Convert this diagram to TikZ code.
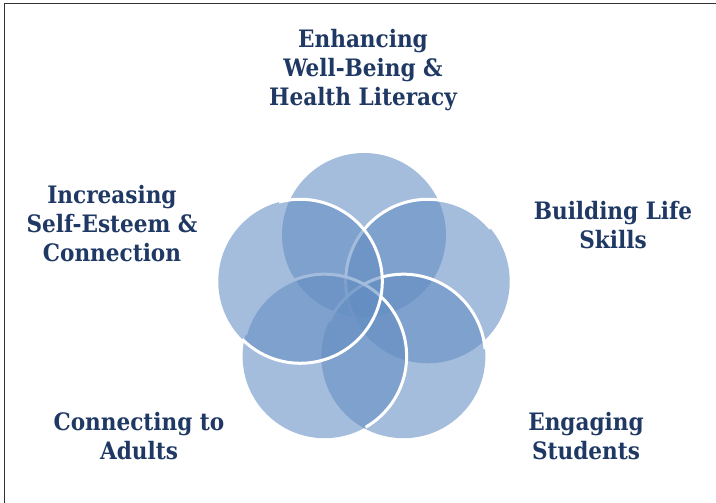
\documentclass[tikz,border=0pt]{standalone}
\usepackage{fontspec}
\newfontfamily\labelfont{DejaVu Serif Condensed}
\usepackage{tikz}
\usetikzlibrary{positioning}
\definecolor{petalblue}{RGB}{99,141,194}
\definecolor{navy}{RGB}{31,56,100}
\tikzset{
    % one pixel of the layout is one point
    x=1pt, y=1pt,
    % Define style for the circles
    petal/.style={
           circle,
           fill=petalblue,
           fill opacity=0.58,
           inner sep=0pt, outer sep=0pt,
           minimum size=164pt},
    % Define style for the white rims
    rim/.style={
           draw=white,
           line width=3pt},
    % Define style for the headings
    heading/.style={
           align=center,
           text=navy,
           font=\labelfont\bfseries\fontsize{24}{29}\selectfont},
    frame/.style={draw=black!80, line width=1.5pt}
}

\begin{document}
\begin{tikzpicture}
  \useasboundingbox (0,0) rectangle (716,503);
  \draw[frame] (4.5,0) |- (716,499.5);

  % five circles round one hub, rims drawn as they are laid
  \begin{scope}[shift={(364,201)}]
    \node[petal] (top) at (90:67) {};
    \node[petal] (right) at (18:67) {};
    \draw[rim] (right.215) arc[start angle=215, end angle=40, radius=82];
    \node[petal] (engage) at (306:67) {};
    \draw[rim] (engage.155) arc[start angle=155, end angle=5, radius=82];
    \node[petal] (adults) at (234:67) {};
    \draw[rim] (adults.165) arc[start angle=165, end angle=-60, radius=82];
    \node[petal] (left) at (162:67) {};
    \draw[rim] (left.105) arc[start angle=105, end angle=-135, radius=82];
  \end{scope}

  % headings
  \node[heading] (wellbeing) at (363,433) {Enhancing\\Well-Being \&\\Health Literacy};
  \node[heading] (esteem) at (112,279) {Increasing\\Self-Esteem \&\\Connection};
  \node[heading] (skills) at (613,278) {Building Life\\Skills};
  \node[heading] (connect) at (139,67) {Connecting to\\Adults};
  \node[heading] (students) at (586,67) {Engaging\\Students};
\end{tikzpicture}
\end{document}
